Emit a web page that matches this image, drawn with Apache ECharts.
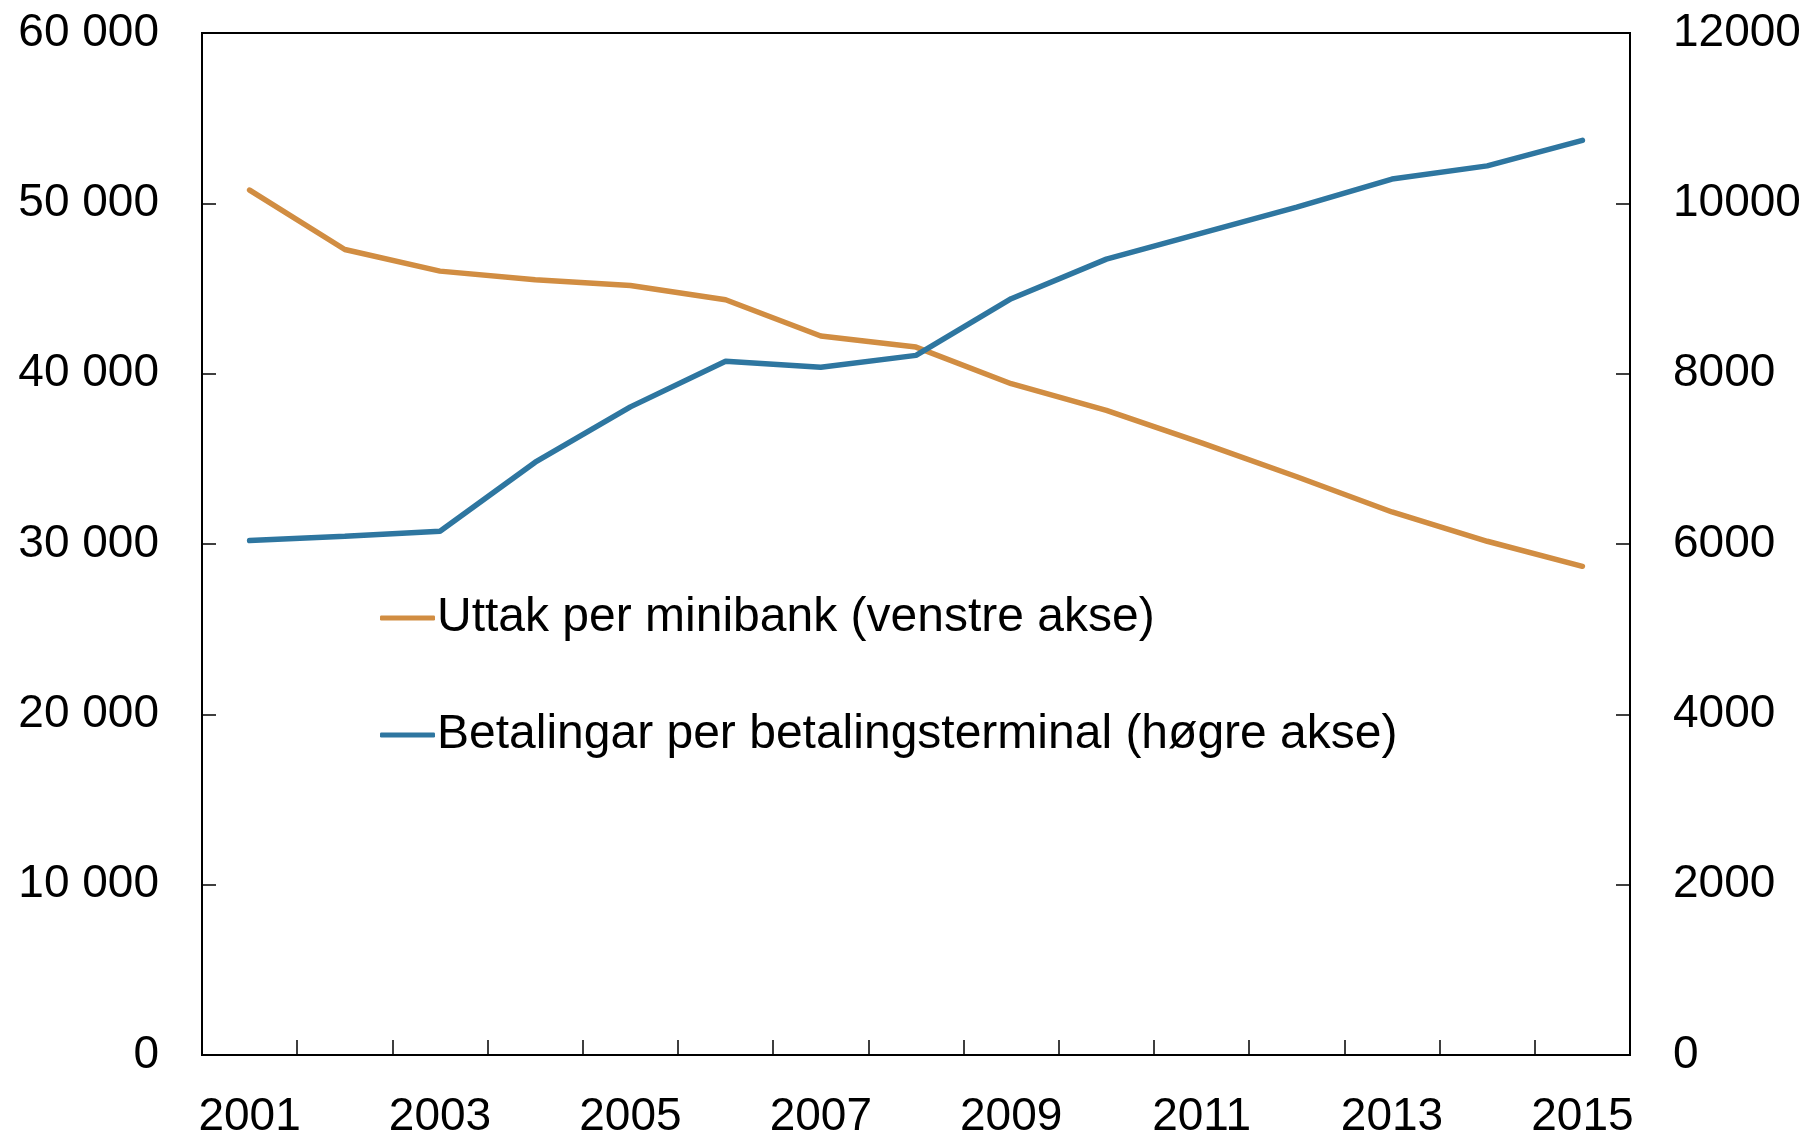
<!DOCTYPE html>
<html>
<head>
<meta charset="utf-8">
<script src="https://cdn.jsdelivr.net/npm/echarts@6/dist/echarts.min.js"></script>
<style>
  html, body { margin: 0; padding: 0; background: #fff; }
  #chart { width: 1810px; height: 1133px; }
</style>
</head>
<body>
<div id="chart"></div>
<script>
// år
const years = ['2001', '2002', '2003', '2004', '2005', '2006', '2007', '2008',
  '2009', '2010', '2011', '2012', '2013', '2014', '2015']
// uttak per minibank (venstre akse)
const uttak = [50780, 47290, 46020, 45510, 45180, 44340, 42210, 41560,
  39410, 37850, 35940, 33950, 31880, 30160, 28690]
// betalingar per betalingsterminal (høgre akse)
const betalingar = [6040, 6090, 6150, 6960, 7610, 8145, 8075, 8215,
  8880, 9345, 9650, 9955, 10285, 10440, 10740]

const uttakName = 'Uttak per minibank (venstre akse)'
const betalName = 'Betalingar per betalingsterminal (høgre akse)'

const orange = '#D18D42'
const blue = '#2E76A0'
const font = 'Liberation Sans, Arial, sans-serif'

const chart = echarts.init(document.getElementById('chart'))

const option = {
  animation: false,
  backgroundColor: '#fff',
  grid: {
    left: 202,
    right: 180,
    top: 33,
    bottom: 78,
    outerBoundsMode: 'none',
    containLabel: false,
    show: true,
    borderColor: '#000',
    borderWidth: 2,
  },
  legend: {
    orient: 'vertical',
    left: 380,
    top: 594,
    padding: 0,
    icon: 'roundRect',
    itemWidth: 55,
    itemHeight: 5,
    itemGap: 69,
    textStyle: {
      fontFamily: font,
      fontSize: 48,
      lineHeight: 48,
      color: '#000',
      padding: [0, 0, 0, -3],
    },
    data: [uttakName, betalName],
  },
  xAxis: {
    type: 'category',
    data: years,
    boundaryGap: true,
    axisLine: { show: true, lineStyle: { color: '#000', width: 2 } },
    axisTick: { show: true, inside: true, length: 15, interval: 0, lineStyle: { color: '#000', width: 1.5 } },
    axisLabel: {
      interval: 1,
      margin: 39,
      fontFamily: font,
      fontSize: 46,
      color: '#000',
    },
    splitLine: { show: false },
  },
  yAxis: [
    {
      type: 'value',
      min: 0,
      max: 60000,
      interval: 10000,
      axisLine: { show: true, lineStyle: { color: '#000', width: 2 } },
      axisTick: { show: true, inside: true, length: 14, lineStyle: { color: '#000', width: 1.5 } },
      axisLabel: {
        margin: 43,
        fontFamily: font,
        fontSize: 46,
        color: '#000',
        formatter: (v) => String(v).replace(/\B(?=(\d{3})+(?!\d))/g, ' '),
      },
      splitLine: { show: false },
    },
    {
      type: 'value',
      position: 'right',
      min: 0,
      max: 12000,
      interval: 2000,
      axisLine: { show: true, lineStyle: { color: '#000', width: 2 } },
      axisTick: { show: true, inside: true, length: 14, lineStyle: { color: '#000', width: 1.5 } },
      axisLabel: {
        margin: 43,
        fontFamily: font,
        fontSize: 46,
        color: '#000',
        formatter: (v) => String(v),
      },
      splitLine: { show: false },
    },
  ],
  series: [
    {
      name: uttakName,
      type: 'line',
      yAxisIndex: 0,
      data: uttak,
      symbol: 'none',
      itemStyle: { color: orange },
      lineStyle: { color: orange, width: 5.5, cap: 'round' },
    },
    {
      name: betalName,
      type: 'line',
      yAxisIndex: 1,
      data: betalingar,
      symbol: 'none',
      itemStyle: { color: blue },
      lineStyle: { color: blue, width: 5.5, cap: 'round' },
    },
  ],
}

chart.setOption(option)
</script>
</body>
</html>
